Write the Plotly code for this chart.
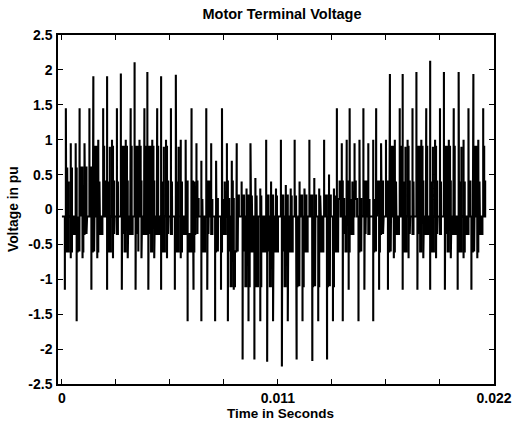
import plotly.graph_objects as go

# ---- data (time in s, voltage in pu) ----
# one entry per PWM carrier period
t_up = [0.0002, 0.0009, 0.0016, 0.0023, 0.0030, 0.0037, 0.00435, 0.00505, 0.0058, 0.0066,
        0.00735, 0.00815, 0.0089, 0.0096, 0.0104, 0.01115, 0.01185, 0.0126, 0.01335, 0.0140,
        0.01465, 0.01535, 0.0160, 0.0167, 0.01735, 0.01805, 0.01875, 0.01945, 0.0202, 0.02095]
p1 = [1.45, 1.45, 1.91, 1.91, 1.95, 2.11, 1.97, 1.91, 1.93, 1.45,
      1.45, 1.45, 0.95, 0.95, 1.0, 1.0, 1.0, 1.0, 1.0, 1.45,
      1.45, 1.45, 1.45, 1.94, 1.94, 1.97, 2.13, 1.97, 1.97, 1.94]
p2 = [0.95, 0.95, 1.0, 1.0, 1.0, 1.0, 1.0, 1.0, 1.0, 0.95,
      0.95, 0.95, 0.4, 0.45, 0.4, 0.35, 0.4, 0.45, 0.5, 0.95,
      0.95, 0.95, 0.95, 1.0, 1.0, 1.0, 1.0, 1.0, 1.0, 1.0]
p3 = [0.95, 1.45, 1.45, 1.45, 1.45, 1.45, 1.45, 1.45, 1.0, 0.7,
      0.7, 0.7, 0.3, 0.3, 0.3, 0.3, 0.3, 0.3, 0.3, 1.0,
      1.0, 1.0, 1.0, 1.45, 1.45, 1.45, 1.45, 1.45, 1.45, 1.45]
hi = [0.4, 0.4, 0.9, 0.9, 0.9, 0.9, 0.9, 0.9, 0.9, 0.4,
      0.4, 0.4, -0.1, -0.1, -0.1, -0.1, -0.1, -0.1, -0.1, 0.4,
      0.4, 0.4, 0.4, 0.9, 0.9, 0.9, 0.9, 0.9, 0.9, 0.9]
mid_hi = [0.6, 0.6, 0.4, 0.4, 0.4, 0.4, 0.4, 0.4, 0.4, 0.15,
          0.15, 0.15, 0.2, 0.2, 0.2, 0.2, 0.2, 0.2, 0.2, 0.15,
          0.15, 0.15, 0.4, 0.4, 0.4, 0.4, 0.4, 0.4, 0.4, 0.4]
t_dn = [0.00015, 0.00075, 0.0015, 0.0023, 0.00305, 0.00375, 0.0044, 0.00505, 0.00575, 0.0064,
        0.0071, 0.0078, 0.00845, 0.0092, 0.0098, 0.01045, 0.0112, 0.01195, 0.01275, 0.0135,
        0.0143, 0.0151, 0.01585, 0.0166, 0.01735, 0.0181, 0.01875, 0.0195, 0.02015, 0.02085]
n1 = [-1.15, -1.6, -1.15, -1.15, -1.15, -1.15, -1.15, -1.15, -1.15, -1.6,
      -1.6, -1.6, -1.6, -2.15, -2.15, -2.18, -2.25, -2.15, -2.17, -2.15,
      -1.6, -1.6, -1.6, -1.15, -1.15, -1.15, -1.15, -1.15, -1.15, -1.15]
n2 = [-0.7, -0.7, -0.7, -0.7, -0.7, -0.7, -0.7, -0.7, -0.7, -1.15,
      -1.15, -1.15, -1.15, -1.6, -1.6, -1.6, -1.6, -1.6, -1.6, -1.6,
      -1.15, -1.15, -1.15, -0.7, -0.7, -0.7, -0.7, -0.7, -0.7, -0.7]
lo = [-0.6, -0.6, -0.6, -0.6, -0.6, -0.6, -0.6, -0.6, -0.6, -0.6,
      -0.6, -0.6, -1.1, -1.1, -1.1, -1.1, -1.1, -1.1, -1.1, -1.1,
      -0.6, -0.6, -0.6, -0.6, -0.6, -0.6, -0.6, -0.6, -0.6, -0.6]
mid_lo = [-0.35, -0.35, -0.35, -0.35, -0.35, -0.35, -0.35, -0.35, -0.35, -0.35,
          -0.35, -0.35, -0.6, -0.6, -0.6, -0.6, -0.6, -0.6, -0.6, -0.6,
          -0.35, -0.35, -0.35, -0.35, -0.35, -0.35, -0.35, -0.35, -0.35, -0.35]
base_level = -0.1
t_end = 0.0215

y_ticks = [-2.5, -2, -1.5, -1, -0.5, 0, 0.5, 1, 1.5, 2, 2.5]
y_labels = ["-2.5", "-2", "-1.5", "-1", "-0.5", "0", "0.5", "1", "1.5", "2", "2.5"]
x_ticks = [0, 0.00275, 0.0055, 0.00825, 0.011, 0.01375, 0.0165, 0.01925, 0.022]
x_labels = ["0", "", "", "", "0.011", "", "", "", "0.022"]

# ---- build the switching waveform (step levels with overshoot spikes) ----
B = base_level
events = []
for k in range(len(t_up)):
    u, d = t_up[k], t_dn[k]
    events += [
        (u, p1[k], hi[k]), (u + 0.7e-4, None, mid_hi[k]), (u + 1.4e-4, None, hi[k]),
        (u + 1.9e-4, None, B),
        (u + 2.5e-4, p2[k], hi[k]), (u + 3.1e-4, None, mid_hi[k]), (u + 3.8e-4, None, B),
        (u + 5.0e-4, p3[k], hi[k]), (u + 5.5e-4, None, mid_hi[k]), (u + 6.0e-4, None, B),
        (d, n1[k], lo[k]), (d + 0.7e-4, None, mid_lo[k]), (d + 1.4e-4, None, lo[k]),
        (d + 1.9e-4, None, B),
        (d + 3.0e-4, n2[k], lo[k]), (d + 3.6e-4, None, mid_lo[k]), (d + 4.3e-4, None, B),
        (d + 5.0e-4, None, mid_lo[k]), (d + 5.6e-4, None, B),
    ]
events.sort(key=lambda e: e[0])

xs, ys = [0.0], [B]
cur = B
for t, pk, lvl in events:
    xs.append(t); ys.append(cur)
    if pk is not None:
        xs.append(t); ys.append(pk)
    xs.append(t); ys.append(lvl)
    cur = lvl
xs.append(t_end); ys.append(cur)

FONT = "Liberation Sans, Arial, sans-serif"

fig = go.Figure(go.Scatter(x=xs, y=ys, mode="lines",
                           line=dict(color="black", width=2.1),
                           hoverinfo="skip"))

axis_common = dict(showgrid=False, zeroline=False, showline=True, linecolor="black",
                   linewidth=1.5, mirror="ticks", ticks="inside", ticklen=5,
                   tickcolor="black", tickwidth=1.2,
                   tickfont=dict(family=FONT, size=14, color="black", weight="bold"))

fig.update_xaxes(range=[-0.0002, 0.022], tickmode="array", tickvals=x_ticks,
                 ticktext=x_labels, ticklabelstandoff=0, **axis_common)
fig.update_yaxes(range=[-2.5, 2.5], tickmode="array", tickvals=y_ticks,
                 ticktext=y_labels, ticklabelstandoff=1, **axis_common)

fig.update_layout(
    width=524, height=423,
    margin=dict(l=58, r=22, t=35, b=39),
    paper_bgcolor="white", plot_bgcolor="white",
    showlegend=False,
    title=dict(text="Motor Terminal Voltage", x=282 / 524, xanchor="center",
               y=1 - 14 / 423, yanchor="middle", yref="container",
               font=dict(family=FONT, size=14.5, color="black", weight="bold")),
    annotations=[
        dict(text="Voltage in pu", xref="paper", yref="paper", x=0, y=0.5,
             xshift=-44.5, textangle=-90, showarrow=False, xanchor="center",
             yanchor="middle",
             font=dict(family=FONT, size=13.8, color="black", weight="bold")),
        dict(text="Time in Seconds", xref="paper", yref="paper", x=0.5, y=0,
             xshift=4, yshift=-29.5, showarrow=False, xanchor="center", yanchor="middle",
             font=dict(family=FONT, size=13.5, color="black", weight="bold")),
    ],
)

fig.write_html("out.html")
